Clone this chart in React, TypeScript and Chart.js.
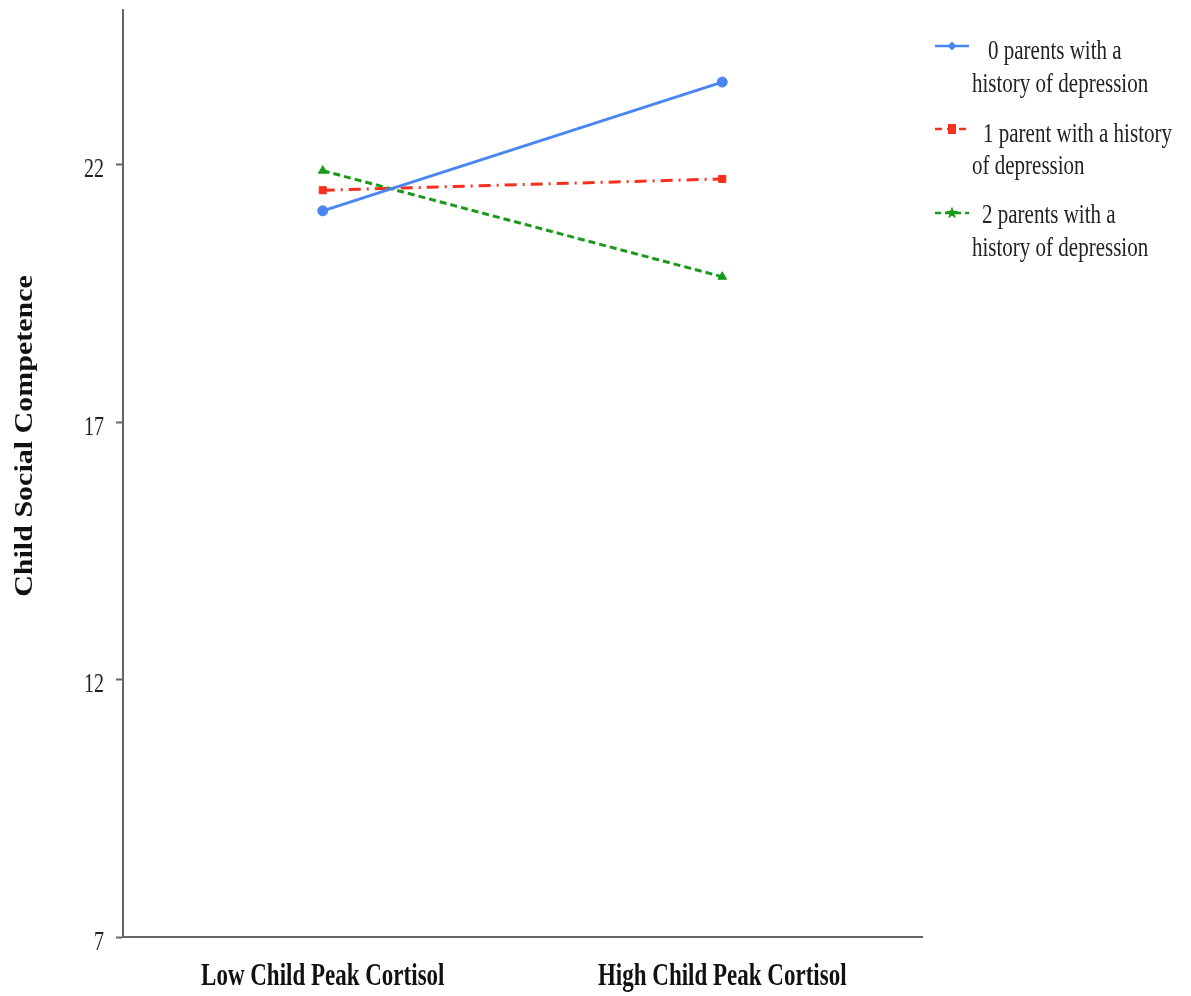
import React, { useEffect, useRef } from "react";
import { Chart, registerables } from "chart.js";

Chart.register(...registerables);

const categories = ["Low Child Peak Cortisol", "High Child Peak Cortisol"];
const zeroParents = [21.1, 23.6];
const oneParent = [21.5, 21.72];
const twoParents = [21.88, 19.82];
const yTicks = [7, 12, 17, 22];
const yTitle = "Child Social Competence";
const legendLines = [
  ["0 parents with a", "history of depression"],
  ["1 parent with a history", "of depression"],
  ["2 parents with a", "history of depression"],
];

const FONT = "'Liberation Serif', 'Times New Roman', serif";
const STRETCH = 1.33;

function stretchedText(ctx: any, text: string, x: number, y: number, font: string, align: string, sy: number, color: string) {
  ctx.save();
  ctx.translate(x, y);
  ctx.scale(1, sy);
  ctx.font = font;
  ctx.fillStyle = color;
  ctx.textAlign = align;
  ctx.textBaseline = "alphabetic";
  ctx.fillText(text, 0, 0);
  ctx.restore();
}

export default function App() {
  const ref = useRef<HTMLCanvasElement>(null);
  useEffect(() => {
    if (!ref.current) return;
    const seriesStyles = [
      { color: "#4a86f0", dash: [] as number[], legendDash: [] as number[], point: "circle" },
      { color: "#f5301e", dash: [12, 6, 2, 6], legendDash: [7, 5], point: "rect" },
      { color: "#1a9a1a", dash: [7, 4], legendDash: [6, 4], point: "triangle" },
    ];
    const seriesData = [zeroParents, oneParent, twoParents];

    const textPlugin = {
      id: "customText",
      afterDraw(chart: any) {
        const ctx = chart.ctx;
        ctx.save();
        const ys = chart.scales.y;
        ys.ticks.forEach((t: any) => {
          const py = ys.getPixelForValue(t.value);
          stretchedText(ctx, String(t.value), 104, py + 12.5, `20px ${FONT}`, "right", 1.4, "#222");
        });
        const xs = chart.scales.x;
        (chart.data.labels as string[]).forEach((lab: string, i: number) => {
          const px = xs.getPixelForTick(i);
          stretchedText(ctx, lab, px, 985, `bold 23px ${FONT}`, "center", STRETCH, "#111");
        });
        const sampleY = [46, 129, 213];
        const baselines = [
          [59, 92],
          [142, 174],
          [223, 256],
        ];
        const firstX = [988, 983, 982];
        chart.data.datasets.forEach((ds: any, i: number) => {
          const st = seriesStyles[i];
          const y = sampleY[i];
          ctx.strokeStyle = st.color;
          ctx.fillStyle = st.color;
          ctx.lineWidth = 2.5;
          ctx.setLineDash(st.legendDash);
          ctx.beginPath();
          ctx.moveTo(935, y);
          ctx.lineTo(969, y);
          ctx.stroke();
          ctx.setLineDash([]);
          ctx.beginPath();
          if (i === 0) {
            ctx.moveTo(952, y - 4.5);
            ctx.lineTo(956.5, y);
            ctx.lineTo(952, y + 4.5);
            ctx.lineTo(947.5, y);
            ctx.closePath();
            ctx.fill();
          } else if (i === 1) {
            ctx.fillRect(948, y - 5, 8, 10);
          } else {
            const cx = 952, cy = y, r = 6.5, r2 = 2.7;
            for (let k = 0; k < 10; k++) {
              const rr = k % 2 === 0 ? r : r2;
              const a = -Math.PI / 2 + (k * Math.PI) / 5;
              const px = cx + rr * Math.cos(a);
              const py = cy + rr * Math.sin(a);
              if (k === 0) ctx.moveTo(px, py);
              else ctx.lineTo(px, py);
            }
            ctx.closePath();
            ctx.fill();
          }
          legendLines[i].forEach((line, j) => {
            stretchedText(ctx, line, j === 0 ? firstX[i] : 972, baselines[i][j], `21px ${FONT}`, "left", STRETCH, "#222");
          });
        });
        ctx.save();
        ctx.translate(26, 436);
        ctx.rotate(-Math.PI / 2);
        ctx.scale(1.2, 1);
        ctx.font = `bold 25px ${FONT}`;
        ctx.fillStyle = "#111";
        ctx.textAlign = "center";
        ctx.textBaseline = "middle";
        ctx.fillText(yTitle, 0, 0);
        ctx.restore();
        ctx.restore();
      },
    };

    const chart = new Chart(ref.current, {
      type: "line",
      data: {
        labels: categories,
        datasets: seriesData.map((d, i) => ({
          label: legendLines[i].join(" "),
          data: d,
          borderColor: seriesStyles[i].color,
          backgroundColor: seriesStyles[i].color,
          borderWidth: 3,
          borderDash: seriesStyles[i].dash,
          pointStyle: seriesStyles[i].point as any,
          pointRadius: 5,
          pointBorderWidth: 1,
          tension: 0,
          fill: false,
        })),
      },
      options: {
        animation: false,
        responsive: false,
        maintainAspectRatio: false,
        layout: { padding: { left: 0, top: 10, right: 269, bottom: 0 } },
        plugins: { legend: { display: false }, tooltip: { enabled: false } },
        scales: {
          x: {
            offset: true,
            grid: { display: false, drawTicks: false },
            border: { color: "#666", width: 2 },
            ticks: {
              color: "rgba(0,0,0,0)",
              padding: 28,
              font: { family: FONT, size: 21, weight: "bold" },
            },
            afterFit(scale: any) {
              scale.height = 59;
              scale.paddingLeft = 0;
              scale.paddingRight = 0;
            },
          },
          y: {
            min: 7,
            max: 25,
            grid: { display: true, drawOnChartArea: false, drawTicks: true, tickLength: 7, tickColor: "#666", tickWidth: 2 },
            border: { color: "#666", width: 2 },
            ticks: {
              color: "rgba(0,0,0,0)",
              padding: 14,
              font: { family: FONT, size: 20 },
            },
            afterBuildTicks(scale: any) {
              scale.ticks = yTicks.map((v) => ({ value: v }));
            },
            afterFit(scale: any) {
              scale.width = 123;
              scale.paddingTop = 0;
              scale.paddingBottom = 0;
            },
          },
        },
      },
      plugins: [textPlugin],
    });
    return () => chart.destroy();
  }, []);
  return (
    <div style={{ position: "fixed", left: 0, top: 0, width: 1191, height: 996, background: "#fff" }}>
      <canvas ref={ref} width={1191} height={996} style={{ width: 1191, height: 996 }} />
    </div>
  );
}
